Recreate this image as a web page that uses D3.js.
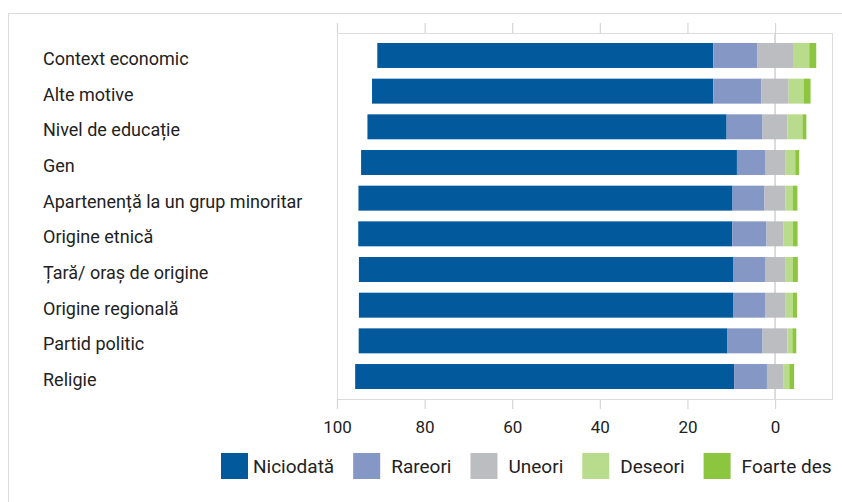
<!DOCTYPE html>
<html>
<head>
<meta charset="utf-8">
<script src="https://cdn.jsdelivr.net/npm/d3@7"></script>
<style>
  body { margin: 0; background: #fff; }
  svg { display: block; font-family: Roboto, "Noto Sans", sans-serif; }
</style>
</head>
<body>
<div id="chart"></div>
<script>
const width = 842;
const height = 502;

const categories = [
    "Context economic",
    "Alte motive",
    "Nivel de educație",
    "Gen",
    "Apartenență la un grup minoritar",
    "Origine etnică",
    "Țară/ oraș de origine",
    "Origine regională",
    "Partid politic",
    "Religie"
];
const seriesNames = ["Niciodată", "Rareori", "Uneori", "Deseori", "Foarte des"];
const niciodata = [76.7, 77.9, 82.0, 85.8, 85.4, 85.4, 85.4, 85.4, 84.2, 86.5];
const rareori   = [10.0, 11.0, 8.2, 6.4, 7.3, 7.8, 7.3, 7.3, 8.0, 7.5];
const uneori    = [8.2, 6.2, 5.7, 4.6, 4.8, 3.9, 4.6, 4.6, 5.7, 3.7];
const deseori   = [3.7, 3.4, 3.4, 2.3, 1.6, 2.1, 1.8, 1.8, 1.1, 1.4];
const foarteDes = [1.6, 1.6, 0.9, 0.9, 1.1, 1.1, 1.1, 0.9, 0.9, 1.1];
const tickValues = [100, 80, 60, 40, 20, 0];

const colors = ["#02599c", "#8497c5", "#bcbdc1", "#b9dc8c", "#8cc63f"];

const series = [niciodata, rareori, uneori, deseori, foarteDes];

const plot = { left: 337, right: 832, top: 33, bottom: 399 };

const svg = d3.select("#chart")
    .append("svg")
    .attr("width", width)
    .attr("height", height);

// outer frame
svg.append("rect")
    .attr("x", 8.5).attr("y", 13.5)
    .attr("width", 900).attr("height", 600)
    .attr("fill", "none")
    .attr("stroke", "#dcdcdc");

const x = d3.scaleLinear()
    .domain([100, -13])
    .range([plot.left, plot.right]);

const y = d3.scaleBand()
    .domain(categories)
    .range([plot.top, plot.bottom])
    .paddingInner(0.3)
    .paddingOuter(0.28);

// plot box
svg.append("rect")
    .attr("x", plot.left + 0.5).attr("y", plot.top + 0.5)
    .attr("width", plot.right - plot.left).attr("height", plot.bottom - plot.top)
    .attr("fill", "none")
    .attr("stroke", "#dcdcdc");

// axes (ticks only on top, ticks + labels at bottom)
const topAxis = svg.append("g")
    .attr("transform", `translate(0,${plot.top})`)
    .call(d3.axisTop(x).tickValues(tickValues).tickSize(10).tickFormat(""));
const bottomAxis = svg.append("g")
    .attr("transform", `translate(0,${plot.bottom})`)
    .call(d3.axisBottom(x).tickValues(tickValues).tickSize(10).tickPadding(12).tickFormat(d3.format("d")));

[topAxis, bottomAxis].forEach(g => {
    g.select(".domain").remove();
    g.selectAll(".tick line").attr("stroke", "#d6d6d6").attr("stroke-width", 1.2);
});
bottomAxis.selectAll(".tick text")
    .attr("fill", "#222")
    .style("font-size", "17px")
    .style("font-family", "Roboto, sans-serif");

// zero line
svg.append("line")
    .attr("x1", x(0)).attr("x2", x(0))
    .attr("y1", plot.top).attr("y2", plot.bottom)
    .attr("stroke", "#d0d0d0")
    .attr("stroke-width", 1.5);

// build segments: neutral ("Uneori") centred on zero
const segments = [];
categories.forEach((cat, i) => {
    let pos = niciodata[i] + rareori[i] + uneori[i] / 2;
    series.forEach((s, k) => {
        segments.push({ cat, k, from: pos, to: pos - s[i] });
        pos -= s[i];
    });
});

svg.append("g")
    .selectAll("rect")
    .data(segments)
    .enter()
    .append("rect")
    .attr("x", d => x(d.from))
    .attr("y", d => y(d.cat))
    .attr("width", d => x(d.to) - x(d.from))
    .attr("height", y.bandwidth())
    .attr("fill", d => colors[d.k]);

// category labels
svg.append("g")
    .selectAll("text")
    .data(categories)
    .enter()
    .append("text")
    .attr("x", 43)
    .attr("y", d => y(d) + y.bandwidth() / 2)
    .attr("dy", "0.52em")
    .attr("fill", "#222")
    .style("font-size", "18px")
    .text(d => d);

// legend
const legend = svg.append("g").attr("transform", "translate(221,453)");
let lx = 0;
seriesNames.forEach((name, k) => {
    const item = legend.append("g").attr("transform", `translate(${lx},0)`);
    item.append("rect")
        .attr("width", 27).attr("height", 26)
        .attr("fill", colors[k]);
    const t = item.append("text")
        .attr("x", k === 0 ? 32 : 38)
        .attr("y", 20)
        .attr("fill", "#222")
        .style("font-size", "19px")
        .text(name);
    lx += (k === 0 ? 32 : 38) + t.node().getComputedTextLength() + 19;
});
</script>
</body>
</html>
